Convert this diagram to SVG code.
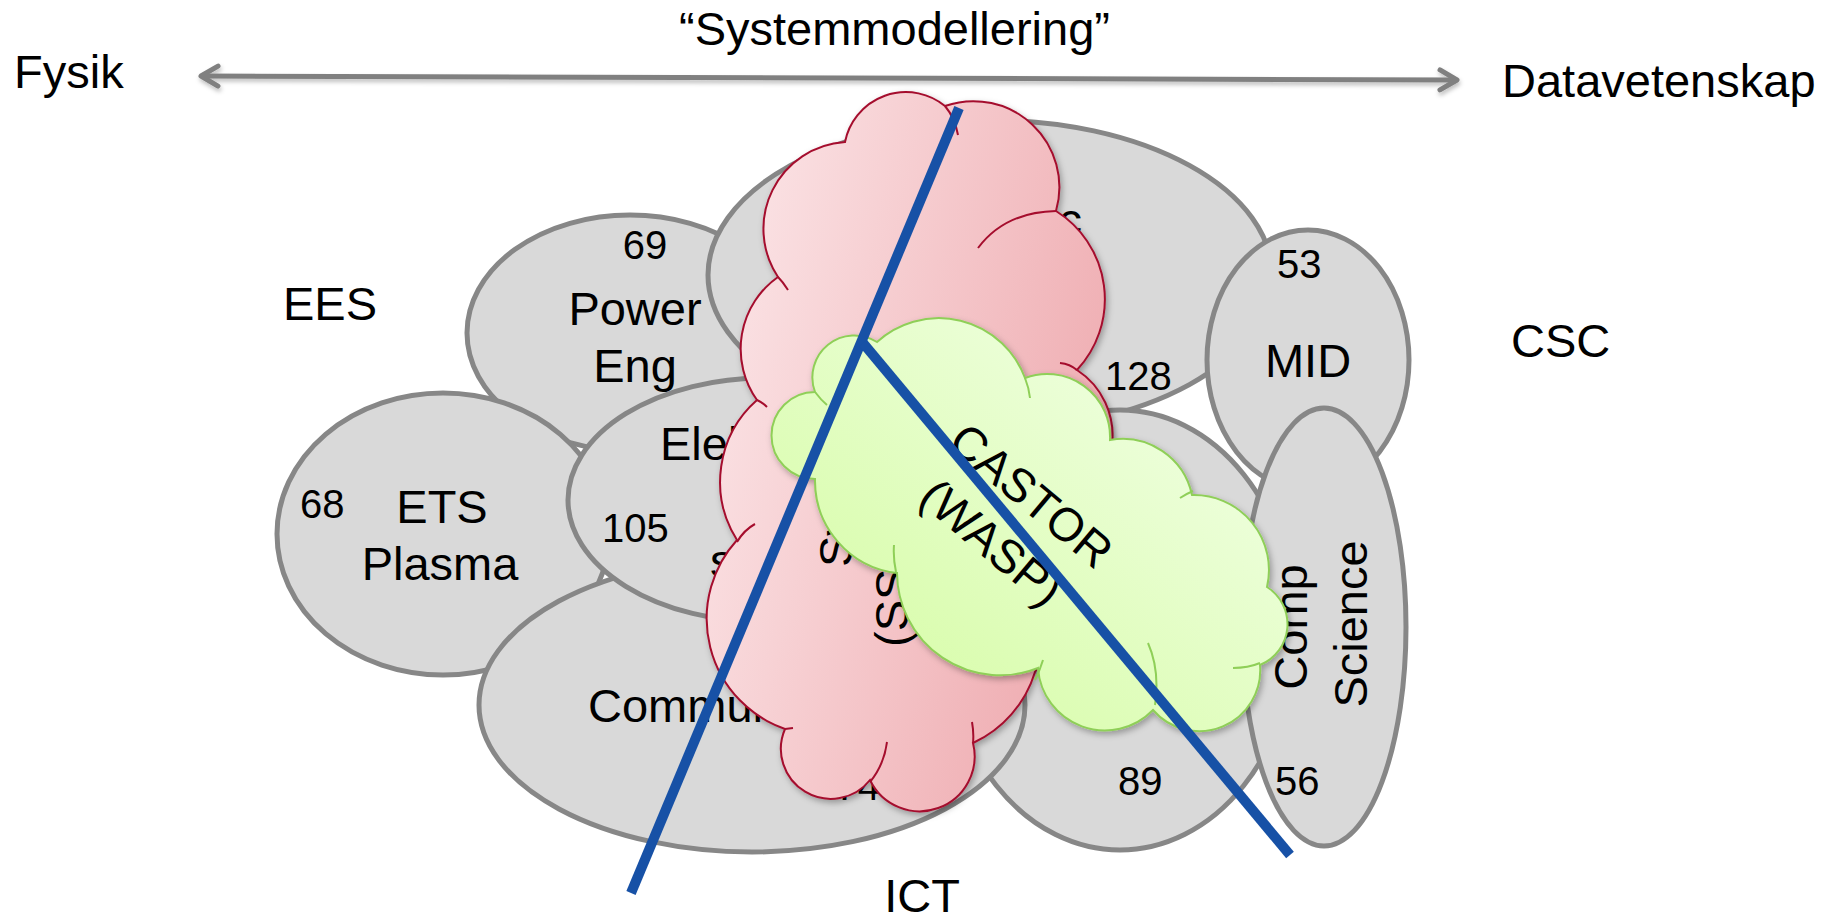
<svg xmlns="http://www.w3.org/2000/svg" width="1837" height="917" viewBox="0 0 1837 917">
<style>
text{font-family:"Liberation Sans",Arial,sans-serif;fill:#000}
.lbl{font-size:47px}
.num{font-size:40px}
.ell{fill:#d9d9d9;stroke:#878787;stroke-width:5}
.pk{stroke:#a50d2d;stroke-width:2;fill:none}
.gr{stroke:#8fcf58;stroke-width:2;fill:none}
.blue{stroke:#1751a6;stroke-width:10;fill:none}
</style>
<defs>
<linearGradient id="pinkG" x1="0" y1="0.3" x2="1" y2="0.7">
<stop offset="0" stop-color="#fbe4e6"/><stop offset="1" stop-color="#eea8ad"/>
</linearGradient>
<linearGradient id="greenG" x1="0" y1="1" x2="1" y2="0">
<stop offset="0" stop-color="#d2fc9c"/><stop offset="1" stop-color="#f5ffee"/>
</linearGradient>
<filter id="sh" x="-10%" y="-10%" width="130%" height="130%">
<feDropShadow dx="2" dy="3" stdDeviation="3" flood-color="#000" flood-opacity="0.3"/>
</filter>
<filter id="ash" filterUnits="userSpaceOnUse" x="150" y="40" width="1360" height="80">
<feDropShadow dx="1" dy="3" stdDeviation="2" flood-color="#000" flood-opacity="0.25"/>
</filter>
<marker id="chev" viewBox="-22 -14 26 28" refX="0" refY="0" markerWidth="26" markerHeight="28" markerUnits="userSpaceOnUse" orient="auto-start-reverse" overflow="visible">
<path d="M -17 -10 L 0 0 L -17 10" fill="none" stroke="#808080" stroke-width="5" stroke-linecap="round" stroke-linejoin="round"/>
</marker>
</defs>

<g id="labels">
<text class="lbl" x="14" y="88">Fysik</text>
<text class="lbl" x="679" y="45">“Systemmodellering”</text>
<text class="lbl" x="1502" y="97">Datavetenskap</text>
<text class="lbl" x="283" y="320">EES</text>
<text class="lbl" x="1511" y="357">CSC</text>
<text class="lbl" x="922" y="912" text-anchor="middle">ICT</text>
</g>

<g id="node-powereng">
<ellipse class="ell" cx="630" cy="333" rx="163" ry="118"/>
<text class="num" x="645" y="259" text-anchor="middle">69</text>
<text class="lbl" x="635" y="325" text-anchor="middle">Power</text>
<text class="lbl" x="635" y="382" text-anchor="middle">Eng</text>
</g>

<g id="node-ets">
<ellipse class="ell" cx="443" cy="534" rx="166" ry="141"/>
<text class="num" x="300" y="518">68</text>
<text class="lbl" x="442" y="523" text-anchor="middle">ETS</text>
<text class="lbl" x="440" y="580" text-anchor="middle">Plasma</text>
</g>

<g id="node-autocontrol">
<ellipse class="ell" cx="990" cy="275" rx="282" ry="155"/>
<text class="lbl" x="1082" y="236" text-anchor="end">Automatic</text>
<text class="num" x="1105" y="390">128</text>
</g>

<g id="node-89">
<ellipse class="ell" cx="1120" cy="630" rx="175" ry="220"/>
<text class="num" x="1118" y="795">89</text>
</g>

<g id="node-comm">
<ellipse class="ell" cx="752" cy="705" rx="273" ry="147"/>
<text class="lbl" x="588" y="722">Communication</text>
<text class="num" x="880" y="800" text-anchor="end">74</text>
</g>

<g id="node-electrical">
<ellipse class="ell" cx="765" cy="500" rx="197" ry="122"/>
<text class="lbl" x="660" y="460">Elektronik</text>
<text class="num" x="602" y="542">105</text>
<text class="lbl" x="710" y="577">system</text>
</g>

<g id="node-mid">
<ellipse class="ell" cx="1308" cy="360" rx="101" ry="130"/>
<text class="num" x="1277" y="278">53</text>
<text class="lbl" x="1308" y="377" text-anchor="middle">MID</text>
</g>

<g id="node-compsci">
<ellipse class="ell" cx="1324" cy="627" rx="82" ry="219"/>
<text class="lbl" transform="translate(1307,627) rotate(-90)" text-anchor="middle">Comp</text>
<text class="lbl" transform="translate(1367,624) rotate(-90)" text-anchor="middle">Science</text>
<text class="num" x="1275" y="795">56</text>
</g>

<g id="node-pinkcloud">
<path filter="url(#sh)" fill="url(#pinkG)" stroke="#a50d2d" stroke-width="2" d="M 945 106 A 86 86 0 0 1 1056 211 A 104 104 0 0 1 1077 370 A 78 78 0 0 1 1112 445 L 1100 560 L 1035 672 A 115 115 0 0 1 973 743 A 55 55 0 0 1 870 780 A 50 50 0 0 1 785 729 A 117 117 0 0 1 737 540 A 109 109 0 0 1 757 400 A 88 88 0 0 1 778 277 A 87 87 0 0 1 845 142 A 62 62 0 0 1 945 106 Z"/>
<path class="pk" d="M 945 106 Q 955 118 958 135 M 978 248 Q 1005 212 1056 211 M 1060 363 Q 1070 364 1077 370 M 972 722 Q 974 733 973 743 M 887 742 Q 884 765 870 782 M 785 729 L 793 728 M 755 524 Q 744 530 737 542 M 767 407 Q 762 402 757 400 M 788 290 Q 783 282 778 277"/>
<text class="lbl" transform="translate(852,567) rotate(-90)">SysMod</text>
<text class="lbl" transform="translate(908,647) rotate(-90)">(SSF)</text>
</g>

<g id="node-castor">
<path filter="url(#sh)" fill="url(#greenG)" stroke="#8fcf58" stroke-width="2" d="M 815 392 A 42 42 0 0 1 877 342 A 92 92 0 0 1 1025 378 A 63 63 0 0 1 1110 440 A 71 71 0 0 1 1192 495 A 75 75 0 0 1 1267 587 A 44 44 0 0 1 1260 665 A 61 61 0 0 1 1153 710 A 67 67 0 0 1 1038 668 A 103 103 0 0 1 897 573 A 93 93 0 0 1 815 479 A 43 43 0 0 1 815 392 Z"/>
<path class="gr" d="M 815 392 Q 821 400 827 405 M 1025 378 Q 1029 388 1030 398 M 1180 498 Q 1186 494 1193 491 M 1233 668 Q 1248 668 1260 663 M 1148 643 Q 1160 670 1155 705 M 1043 660 Q 1040 670 1035 680 M 896 572 Q 893 558 894 545"/>
<text class="lbl" transform="translate(1021,508) rotate(40)" text-anchor="middle">CASTOR</text>
<text class="lbl" transform="translate(981,555) rotate(40)" text-anchor="middle">(WASP)</text>
</g>

<g id="connectors">
<g filter="url(#ash)">
<line x1="201" y1="76" x2="1457" y2="80" stroke="#808080" stroke-width="5" marker-start="url(#chev)" marker-end="url(#chev)"/>
</g>
<line class="blue" x1="631" y1="893" x2="959" y2="108"/>
<line class="blue" x1="863" y1="343" x2="1290" y2="855"/>
</g>
</svg>
